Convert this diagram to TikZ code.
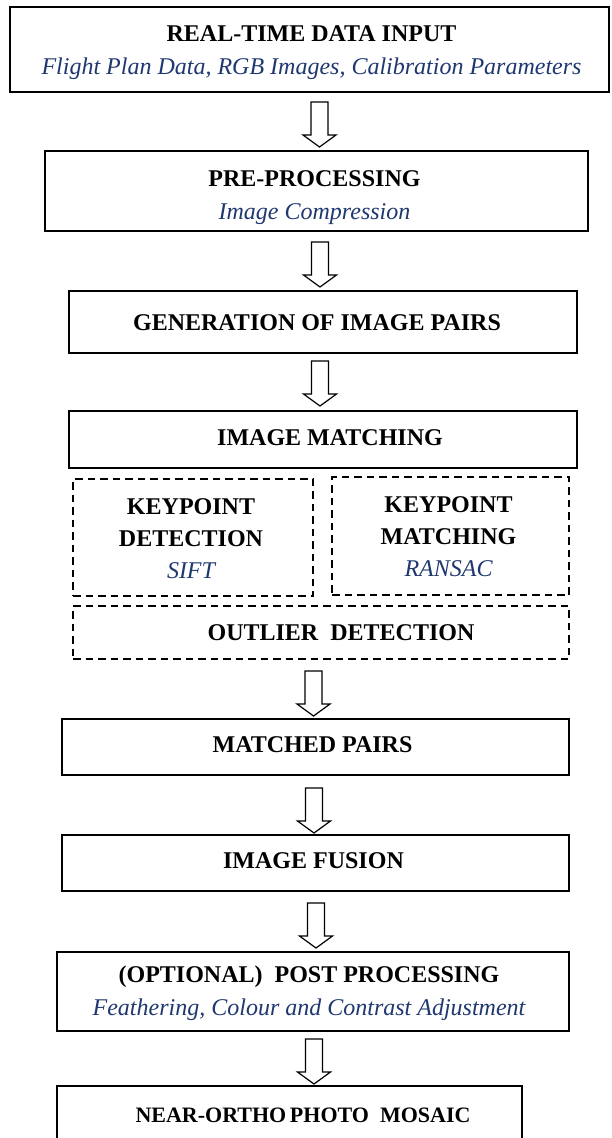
\documentclass[tikz,border=0pt]{standalone}
\usepackage{fontspec}
\setmainfont{Liberation Serif}
\usetikzlibrary{calc}
\definecolor{subblue}{RGB}{31,56,112}
\tikzset{
  box/.style={draw, line width=1.3pt, inner sep=0pt},
  dbox/.style={draw, line width=2.4pt, dash pattern=on 7.5pt off 5pt, inner sep=0pt},
  ttl/.style={font=\fontsize{24}{33}\selectfont\bfseries, align=center, inner sep=0pt},
  ttlk/.style={font=\fontsize{24}{32}\selectfont\bfseries, align=center, inner sep=0pt},
  barrow/.style={draw, line width=1.2pt, fill=white, line join=miter},
  pics/blockarrow/.style={code={
    \draw[barrow] (-8.5,0) -- (8.5,0) -- (8.5,33) -- (16.5,33) -- (0,45)
      -- (-16.5,33) -- (-8.5,33) -- cycle;}},
}
\newcommand\sub[1]{\textcolor{subblue}{\mdseries\itshape #1}}
\begin{document}
\begin{tikzpicture}[x=1pt,y=-1pt]
\useasboundingbox (0,0) rectangle (611,1138);
\fill[white] (0,0) rectangle (611,1138);
% boxes
\node[box, minimum width=599pt, minimum height=85pt] (input) at (309.5,49.5) {};
\node[box, minimum width=543pt, minimum height=80pt] (pre) at (316.5,191) {};
\node[box, minimum width=508pt, minimum height=62pt] (gen) at (323,322) {};
\node[box, minimum width=508pt, minimum height=57pt] (im) at (323,439.5) {};
\node[dbox, minimum width=240pt, minimum height=117pt] (kd) at (193,537.5) {};
\node[dbox, minimum width=237pt, minimum height=118pt] (km) at (450.5,536) {};
\node[dbox, minimum width=496pt, minimum height=53pt] (od) at (321,632.5) {};
\node[box, minimum width=507pt, minimum height=56pt] (mp) at (315.5,747) {};
\node[box, minimum width=507pt, minimum height=56pt] (fu) at (315.5,863) {};
\node[box, minimum width=512pt, minimum height=79pt] (pp) at (313,991.5) {};
\node[box, minimum width=465pt, minimum height=56pt] (nm) at (289.5,1114) {};
% labels
\node[ttl] (input-t) at ($(input)+(2,3.5)$) {REAL-TIME DATA INPUT\\ \sub{Flight Plan Data, RGB Images, Calibration Parameters}};
\node[ttl] (pre-t) at ($(pre)+(-2,7)$) {PRE-PROCESSING\\ \sub{Image Compression}};
\node[ttl] (gen-t) at ($(gen)+(-6,1)$) {GENERATION OF IMAGE PAIRS};
\node[ttl] (im-t) at ($(im)+(7,-2)$) {IMAGE MATCHING};
\node[ttlk] (kd-t) at ($(kd)+(-2,1)$) {KEYPOINT\\ DETECTION\\ \sub{SIFT}};
\node[ttlk] (km-t) at ($(km)+(-2,0.5)$) {KEYPOINT\\ MATCHING\\ \sub{RANSAC}};
\node[ttl] (od-t) at ($(od)+(20,0)$) {OUTLIER\ \ DETECTION};
\node[ttl] (mp-t) at ($(mp)+(-3,-2)$) {MATCHED PAIRS};
\node[ttl] (fu-t) at ($(fu)+(-2,-2)$) {IMAGE FUSION};
\node[ttl] (pp-t) at ($(pp)+(-4,1.5)$) {(OPTIONAL)\ \ POST PROCESSING\\ \sub{Feathering, Colour and Contrast Adjustment}};
\node[ttl, font=\fontsize{22}{30}\selectfont\bfseries] (nm-t) at ($(nm)+(13.5,1)$) {NEAR-ORTHO\,PHOTO\ \ MOSAIC};
% block arrows
\pic at (319.5,102) {blockarrow};
\pic at (320,242) {blockarrow};
\pic at (320,361) {blockarrow};
\pic at (313.5,671) {blockarrow};
\pic at (314,788) {blockarrow};
\pic at (316,903) {blockarrow};
\pic at (314,1039) {blockarrow};
\end{tikzpicture}
\end{document}
